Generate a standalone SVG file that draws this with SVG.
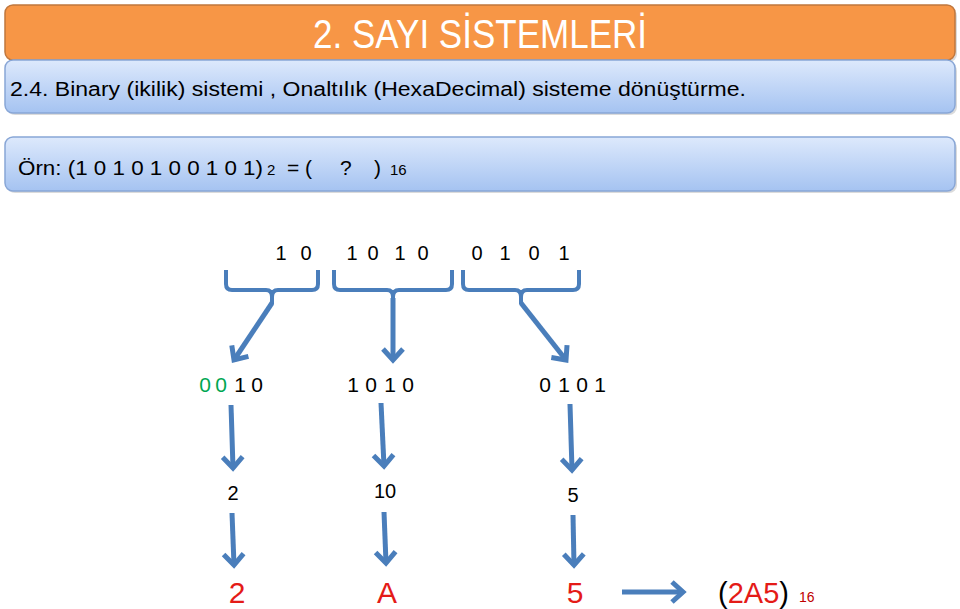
<svg xmlns="http://www.w3.org/2000/svg" width="960" height="609" viewBox="0 0 960 609">
<defs>
<linearGradient id="blueGrad" x1="0" y1="0" x2="0" y2="1">
<stop offset="0" stop-color="#dde9fc"/>
<stop offset="1" stop-color="#a5c3f1"/>
</linearGradient>
<marker id="chev" markerUnits="userSpaceOnUse" markerWidth="30" markerHeight="30" viewBox="-15 -15 30 30" refX="0" refY="0" orient="auto">
<path d="M-11,-10 L0,0 L-11,10" fill="none" stroke="#4a7ebb" stroke-width="5" stroke-linejoin="miter"/>
</marker>
</defs>
<style>
text{font-family:"Liberation Sans",Arial,sans-serif;}
.bar{fill:url(#blueGrad);stroke:#88a6d6;stroke-width:1.5;}
.shadow{fill:#b8b8b8;opacity:0.5;}
.brace{fill:none;stroke:#4a7ebb;stroke-width:4;stroke-linejoin:round;}
.arr{fill:none;stroke:#4a7ebb;stroke-width:5;marker-end:url(#chev);}
.bin{font-size:20px;fill:#000;text-anchor:middle;}
.nib{font-size:21px;fill:#000;text-anchor:middle;}
.dec{font-size:20px;fill:#000;text-anchor:middle;}
.hex{font-size:30px;fill:#e41b17;text-anchor:middle;}
.green{fill:#00a651;}
</style>
<rect width="960" height="609" fill="#ffffff"/>
<g id="title">
<rect x="7" y="8" width="950" height="54" rx="8" class="shadow"/>
<rect x="5" y="5" width="950" height="55" rx="8" fill="#f79646" stroke="#c0773d" stroke-width="1.5"/>
<text x="313" y="48" font-size="40" fill="#ffffff" textLength="334" lengthAdjust="spacingAndGlyphs">2. SAYI SİSTEMLERİ</text>
</g>
<g id="subtitle">
<rect x="7" y="63" width="950" height="52" rx="8" class="shadow"/>
<rect x="5" y="60" width="950" height="53" rx="8" class="bar"/>
<text x="10" y="96" font-size="20" fill="#000" textLength="736" lengthAdjust="spacingAndGlyphs">2.4.  Binary (ikilik) sistemi , Onaltılık (HexaDecimal) sisteme dönüştürme.</text>
</g>
<g id="example">
<rect x="7" y="140" width="950" height="53" rx="8" class="shadow"/>
<rect x="5" y="137" width="950" height="54" rx="8" class="bar"/>
<text y="175" font-size="21" fill="#000"><tspan x="18" textLength="245" lengthAdjust="spacingAndGlyphs">Örn: (1 0 1 0 1 0 0 1 0 1)</tspan><tspan x="267" font-size="15">2</tspan><tspan x="287">= (</tspan><tspan x="340">?</tspan><tspan x="374">)</tspan><tspan x="390" font-size="15">16</tspan></text>
</g>
<g id="binary-row">
<text y="260" class="bin"><tspan x="281">1</tspan><tspan x="306">0</tspan></text>
<text y="260" class="bin"><tspan x="352">1</tspan><tspan x="373">0</tspan><tspan x="400">1</tspan><tspan x="423">0</tspan></text>
<text y="260" class="bin"><tspan x="477">0</tspan><tspan x="505">1</tspan><tspan x="534">0</tspan><tspan x="564">1</tspan></text>
</g>
<g id="braces">
<path class="brace" d="M226,270 L226,284 Q226,290 232,290 L266,290 Q272,290 272,297 L272,304 M272,297 Q272,290 278,290 L312,290 Q318,290 318,284 L318,270"/>
<path class="brace" d="M334,270 L334,284 Q334,290 340,290 L387,290 Q393,290 393,297 L393,300 M393,297 Q393,290 399,290 L446,290 Q452,290 452,284 L452,270"/>
<path class="brace" d="M463,270 L463,284 Q463,290 469,290 L515,290 Q521,290 521,297 L521,304 M521,297 Q521,290 527,290 L573,290 Q579,290 579,284 L579,270"/>
</g>
<g id="nibble-row">
<text y="392" class="nib"><tspan x="205" class="green">0</tspan><tspan x="221" class="green">0</tspan><tspan x="240">1</tspan><tspan x="257">0</tspan></text>
<text y="392" class="nib"><tspan x="353">1</tspan><tspan x="371">0</tspan><tspan x="390">1</tspan><tspan x="408">0</tspan></text>
<text y="392" class="nib"><tspan x="545">0</tspan><tspan x="564">1</tspan><tspan x="582">0</tspan><tspan x="600">1</tspan></text>
</g>
<g id="decimal-row">
<text x="233" y="500" class="dec">2</text>
<text x="385" y="498" class="dec">10</text>
<text x="573" y="502" class="dec">5</text>
</g>
<g id="hex-row">
<text x="237" y="603" class="hex">2</text>
<text x="387" y="603" class="hex">A</text>
<text x="575" y="603" class="hex">5</text>
</g>
<g id="result">
<text x="718" y="603" font-size="29" fill="#000">(<tspan fill="#e41b17">2A5</tspan>)</text>
<text x="799" y="602" font-size="14" fill="#c00000">16</text>
</g>
<g id="connectors">
<path class="arr" d="M272,303 L234,360"/>
<path class="arr" d="M393,298 L393,360"/>
<path class="arr" d="M521,303 L566,360"/>
<path class="arr" d="M231,405 L233,468"/>
<path class="arr" d="M381,403 L384,466"/>
<path class="arr" d="M570,404 L572,470"/>
<path class="arr" d="M232,513 L234,565"/>
<path class="arr" d="M384,512 L386,563"/>
<path class="arr" d="M573,515 L574,565"/>
<path class="arr" d="M622,592 L683,592"/>
</g>
</svg>
